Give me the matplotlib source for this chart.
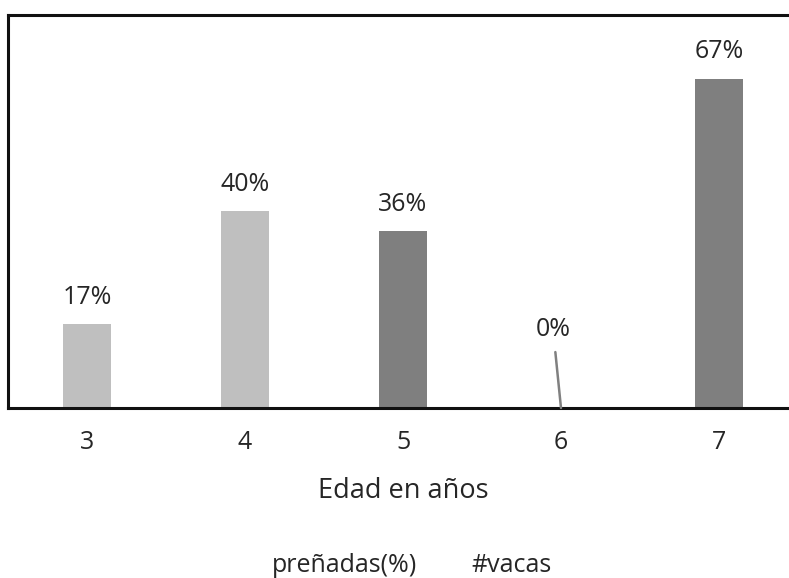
import matplotlib.pyplot as plt

plt.rcParams['font.family'] = ['Open Sans', 'DejaVu Sans']

# edad (años) vs. % de vacas preñadas
edades = ['3', '4', '5', '6', '7']
prenadas = [17, 40, 36, 0, 67]
colores = ['#bfbfbf', '#bfbfbf', '#7f7f7f', '#7f7f7f', '#7f7f7f']
etiquetas = ['17%', '40%', '36%', '0%', '67%']
leyenda = ['preñadas(%)', '#vacas']

TXT = '#262626'

fig = plt.figure(figsize=(7.89, 5.78), dpi=100)
ax = fig.add_axes([8 / 789, 1 - 408 / 578, 790 / 789, 393 / 578])

x = list(range(len(edades)))
ax.bar(x, prenadas, width=0.31, color=colores)

for xi, v, lab in zip(x, prenadas, etiquetas):
    if v == 0:
        # label pulled up with a leader line
        ax.annotate(lab, xy=(xi, 0), xytext=(xi - 0.05, 15.9),
                    ha='center', va='center', fontsize=18, color=TXT,
                    arrowprops=dict(arrowstyle='-', color='#808080', lw=1.8,
                                    shrinkA=5, shrinkB=0))
    else:
        ax.text(xi, v + 5.5, lab, ha='center', va='center',
                fontsize=18, color=TXT)

ax.set_xlim(-0.5, 4.5)
ax.set_ylim(0, 80)
ax.set_xticks(x)
ax.set_xticklabels(edades, fontsize=18, color=TXT)
ax.tick_params(axis='x', length=0, pad=16)
ax.set_yticks([])
for s in ax.spines.values():
    s.set_linewidth(2.2)
    s.set_color('#111111')

ax.set_xlabel('Edad en años', fontsize=19.5, color=TXT)
ax.xaxis.label.set_va('baseline')
ax.xaxis.set_label_coords((403 - 8) / 790, -(498 - 408) / 393)

fig.text(344 / 789, 1 - 566 / 578, leyenda[0], ha='center', va='center',
         fontsize=18, color=TXT)
fig.text(511 / 789, 1 - 566 / 578, leyenda[1], ha='center', va='center',
         fontsize=18, color=TXT)

fig.savefig('out.png', dpi=100)
